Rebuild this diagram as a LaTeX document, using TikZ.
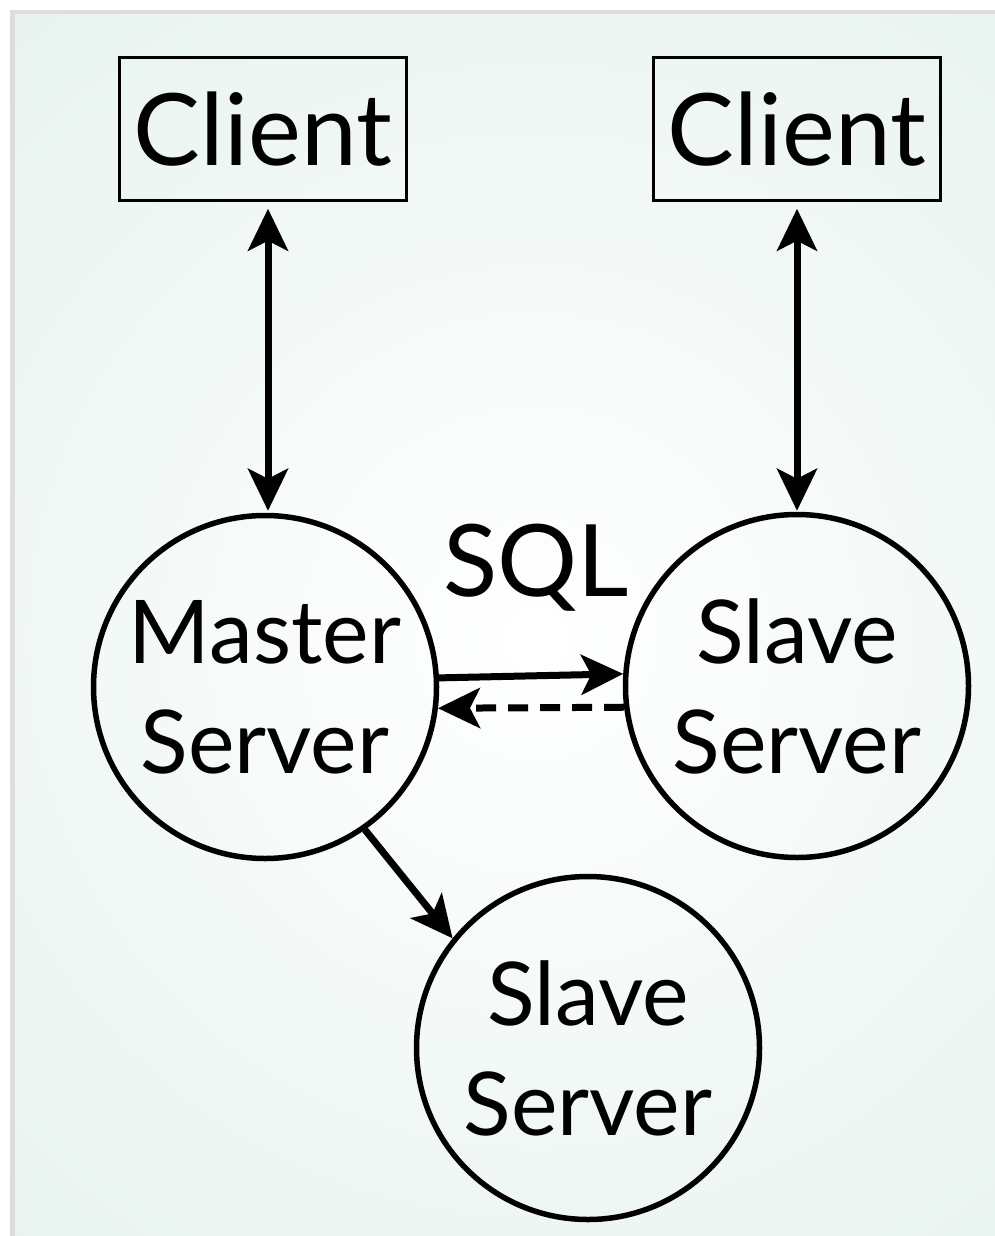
\documentclass[tikz,border=0pt]{standalone}
\usepackage{fontspec}
\setmainfont{Lato}
\usetikzlibrary{arrows.meta}
\definecolor{bggreen}{HTML}{DEEEE8}
\definecolor{framegray}{HTML}{DDDDDD}
\tikzset{
  every node/.style={font=\fontsize{100}{110}\selectfont},
  clientbox/.style={draw, line width=2.5pt, minimum width=287pt, minimum height=143pt, inner sep=0pt},
  server/.style={draw, circle, line width=5.5pt, minimum size=343pt, inner sep=0pt, align=center, font=\fontsize{88}{110}\selectfont},
  conn/.style={line width=7pt, -{Stealth[length=42pt,width=40pt,inset=10pt]}},
  biconn/.style={line width=7pt, {Stealth[length=42pt,width=40pt,inset=10pt]}-{Stealth[length=42pt,width=40pt,inset=10pt]}},
}
\begin{document}
\begin{tikzpicture}[x=1pt,y=-1pt]
\useasboundingbox (0,0) rectangle (995,1236);
\fill[white] (0,0) rectangle (995,1236);
\fill[framegray] (10,10) rectangle (995,1236);
\begin{scope}
\clip (15,15) rectangle (995,1236);
\fill[bggreen] (15,15) rectangle (995,1236);
\shade[inner color=white, outer color=bggreen] (535,640) circle (1150);
\end{scope}
\node[clientbox] (c1) at (263,129) {Client};
\node[clientbox] (c2) at (797,129) {Client};
\node[server] (m) at (265,687) {Master\\Server};
\node[server] (s1) at (797,686) {Slave\\Server};
\node[server] (s2) at (588,1048) {Slave\\Server};
\node (sql) at (536,568) {SQL};
\draw[biconn] ([xshift=5pt,yshift=-7pt]c1.south) -- ([xshift=3pt,yshift=2pt]m.north);
\draw[biconn] ([yshift=-7pt]c2.south) -- ([yshift=1pt]s1.north);
\draw[conn] (m.3.3) -- (s1.176.7);
\draw[conn, dash pattern=on 20pt off 12pt] (s1.187.3) -- (m.-7.3);
\draw[conn] (m.-55) -- (s2.141);
\end{tikzpicture}
\end{document}
